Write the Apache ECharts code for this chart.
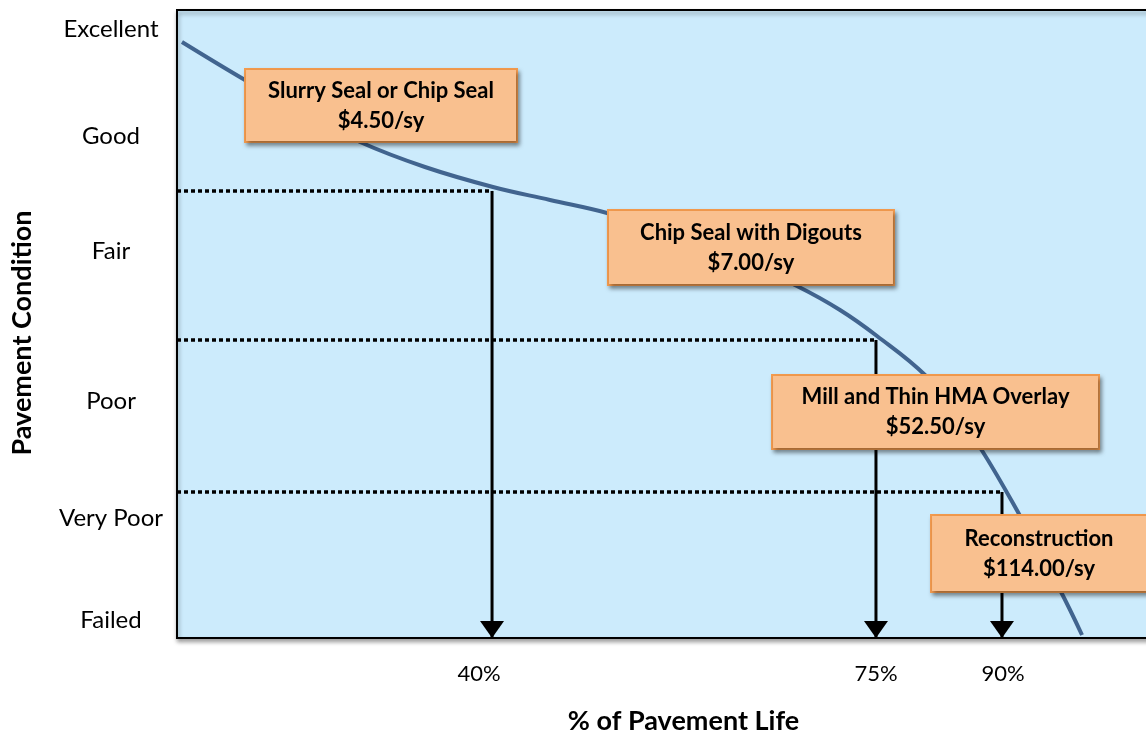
<!DOCTYPE html>
<html>
<head>
<meta charset="utf-8">
<script src="https://cdn.jsdelivr.net/npm/echarts@6/dist/echarts.min.js"></script>
<style>
html,body{margin:0;padding:0;background:#fff;}
#chart{width:1146px;height:735px;}
</style>
</head>
<body>
<div id="chart"></div>
<script>
// ---- data ----
const conditionLabels = ['Failed', 'Very Poor', 'Poor', 'Fair', 'Good', 'Excellent'];
const conditionLabelPos = [2.87, 19.11, 37.74, 61.62, 79.94, 96.97];
const lifeLabels = ['40%', '75%', '90%'];
const lifeLabelPos = [29.81, 69.00, 81.54];
const curveLife = [0.49, 6.71, 12.14, 18.07, 24.48, 31.19, 36.82, 42.45, 51.63, 61.20, 65.45, 69.10, 73.84, 76.60, 79.37, 83.12, 87.17, 89.34];
const curveCondition = [94.90, 88.85, 83.92, 78.98, 75.00, 71.82, 69.75, 67.68, 63.38, 56.05, 52.23, 48.09, 41.88, 36.31, 30.10, 19.75, 7.64, 0.48];
const triggerLife = [31.10, 69.00, 81.44];
const triggerCondition = [71.18, 47.45, 23.25];
const treatments = ['Slurry Seal or Chip Seal', 'Chip Seal with Digouts', 'Mill and Thin HMA Overlay', 'Reconstruction'];
const costs = ['$4.50/sy', '$7.00/sy', '$52.50/sy', '$114.00/sy'];

// ---- annotation layout (not data) ----
const boxAnchor = [[20.14, 84.79], [56.66, 62.18], [74.88, 35.99], [85.59, 13.46]];
const boxWidth = [270, 284, 325, 214];
const boxPad = [[5.5, 0, 5.5, 0], [6.5, 0, 6.5, 0], [6, 0, 6, 0], [7.5, 10, 7.5, 0]];

const FONT = 'Lato';
const chart = echarts.init(document.getElementById('chart'), null, {renderer: 'canvas'});

function nearestLabel(v, pos, labels) {
  for (let i = 0; i < pos.length; i++) if (Math.abs(pos[i] - v) < 1e-6) return labels[i];
  return '';
}

const series = [];
series.push({
  type: 'line', name: 'curve', z: 3,
  data: curveLife.map((x, i) => [x, curveCondition[i]]),
  smooth: 0.4, showSymbol: false, symbol: 'none',
  lineStyle: {color: '#41648F', width: 4}
});
triggerLife.forEach((x, i) => {
  series.push({
    type: 'line', z: 4, symbol: 'none', showSymbol: false,
    data: [[0, triggerCondition[i]], [x, triggerCondition[i]]],
    lineStyle: {color: '#000', width: 3.5, type: [4, 3]}
  });
  series.push({
    type: 'line', z: 4, symbol: 'none', showSymbol: false,
    data: [[x, triggerCondition[i]], [x, 0]],
    lineStyle: {color: '#000', width: 3}
  });
});
series.push({
  type: 'scatter', z: 5,
  data: triggerLife.map(x => [x, 0]),
  symbol: 'triangle', symbolSize: [24, 17], symbolRotate: 180, symbolOffset: [0, -8.5],
  itemStyle: {color: '#000', opacity: 1}
});
series.push({
  type: 'scatter', z: 10, symbolSize: 0,
  itemStyle: {opacity: 1},
  data: boxAnchor.map((p, i) => ({
    value: p,
    label: {width: boxWidth[i], padding: boxPad[i]}
  })),
  label: {
    show: true, position: 'inside', opacity: 1,
    formatter: (p) => treatments[p.dataIndex] + '\n' + costs[p.dataIndex],
    fontFamily: FONT, fontWeight: 'bold', fontSize: 22, color: '#000',
    lineHeight: 30, align: 'center', verticalAlign: 'middle',
    backgroundColor: '#F9C08F', borderColor: '#F29A4E', borderWidth: 2,
    shadowColor: 'rgba(0,0,0,0.35)', shadowBlur: 4, shadowOffsetX: 2, shadowOffsetY: 3
  }
});

chart.setOption({
  animation: false,
  backgroundColor: '#fff',
  grid: {
    left: 177, top: 10, right: -44, bottom: 97,
    outerBoundsMode: 'none', containLabel: false,
    show: true, backgroundColor: '#CCEBFC', borderColor: '#000', borderWidth: 2,
    shadowColor: 'rgba(0,0,0,0.35)', shadowBlur: 4, shadowOffsetX: 1, shadowOffsetY: 3
  },
  xAxis: {
    type: 'value', min: 0, max: 100,
    name: '% of Pavement Life', nameLocation: 'middle', nameGap: 70,
    nameTextStyle: {fontFamily: FONT, fontWeight: 'bold', fontSize: 27, color: '#000'},
    axisLine: {show: false}, axisTick: {show: false}, splitLine: {show: false},
    axisLabel: {
      customValues: lifeLabelPos,
      formatter: (v) => nearestLabel(v, lifeLabelPos, lifeLabels),
      fontFamily: FONT, fontSize: 22, color: '#000', margin: 25
    }
  },
  yAxis: {
    type: 'value', min: 0, max: 100,
    name: 'Pavement Condition', nameLocation: 'middle', nameRotate: 90, nameGap: 141,
    nameTextStyle: {fontFamily: FONT, fontWeight: 'bold', fontSize: 27, color: '#000', padding: [0, 18, 0, 0]},
    axisLine: {show: false}, axisTick: {show: false}, splitLine: {show: false},
    axisLabel: {
      customValues: conditionLabelPos,
      formatter: (v) => nearestLabel(v, conditionLabelPos, conditionLabels),
      fontFamily: FONT, fontSize: 24, color: '#000', margin: 66, align: 'center'
    }
  },
  series: series
});
</script>
</body>
</html>
